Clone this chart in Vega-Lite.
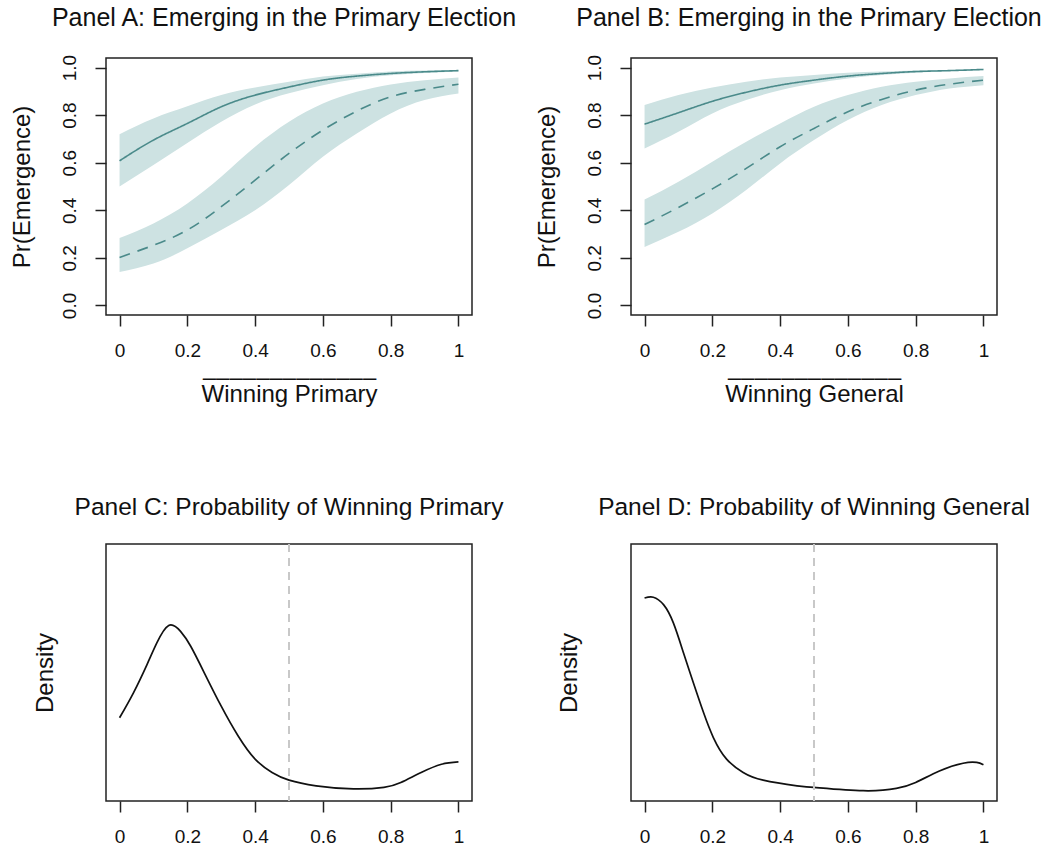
{
  "$schema": "https://vega.github.io/schema/vega-lite/v6.json",
  "autosize": "none",
  "padding": {"left": 106, "top": 58, "right": 951, "bottom": 793},
  "background": "white",
  "datasets": {
    "a": [
      {"x": 0, "series": "solid", "lo": 0.50, "est": 0.608, "hi": 0.72},
      {"x": 0.1, "series": "solid", "lo": 0.59, "est": 0.695, "hi": 0.786},
      {"x": 0.2, "series": "solid", "lo": 0.683, "est": 0.765, "hi": 0.837},
      {"x": 0.3, "series": "solid", "lo": 0.772, "est": 0.835, "hi": 0.884},
      {"x": 0.4, "series": "solid", "lo": 0.845, "est": 0.884, "hi": 0.916},
      {"x": 0.5, "series": "solid", "lo": 0.892, "est": 0.918, "hi": 0.94},
      {"x": 0.6, "series": "solid", "lo": 0.926, "est": 0.947, "hi": 0.962},
      {"x": 0.7, "series": "solid", "lo": 0.952, "est": 0.964, "hi": 0.974},
      {"x": 0.8, "series": "solid", "lo": 0.967, "est": 0.975, "hi": 0.983},
      {"x": 0.9, "series": "solid", "lo": 0.977, "est": 0.982, "hi": 0.987},
      {"x": 1.0, "series": "solid", "lo": 0.983, "est": 0.987, "hi": 0.990},
      {"x": 0, "series": "dashed", "lo": 0.141, "est": 0.202, "hi": 0.284},
      {"x": 0.1, "series": "dashed", "lo": 0.176, "est": 0.253, "hi": 0.345},
      {"x": 0.2, "series": "dashed", "lo": 0.240, "est": 0.317, "hi": 0.429},
      {"x": 0.3, "series": "dashed", "lo": 0.317, "est": 0.415, "hi": 0.541},
      {"x": 0.4, "series": "dashed", "lo": 0.400, "est": 0.527, "hi": 0.667},
      {"x": 0.5, "series": "dashed", "lo": 0.506, "est": 0.639, "hi": 0.772},
      {"x": 0.6, "series": "dashed", "lo": 0.625, "est": 0.737, "hi": 0.849},
      {"x": 0.7, "series": "dashed", "lo": 0.723, "est": 0.817, "hi": 0.898},
      {"x": 0.8, "series": "dashed", "lo": 0.807, "est": 0.877, "hi": 0.929},
      {"x": 0.9, "series": "dashed", "lo": 0.863, "est": 0.908, "hi": 0.947},
      {"x": 1.0, "series": "dashed", "lo": 0.891, "est": 0.930, "hi": 0.958}
    ],
    "b": [
      {"x": 0, "series": "solid", "lo": 0.660, "est": 0.762, "hi": 0.842},
      {"x": 0.1, "series": "solid", "lo": 0.730, "est": 0.810, "hi": 0.884},
      {"x": 0.2, "series": "solid", "lo": 0.807, "est": 0.858, "hi": 0.916},
      {"x": 0.3, "series": "solid", "lo": 0.863, "est": 0.896, "hi": 0.940},
      {"x": 0.4, "series": "solid", "lo": 0.905, "est": 0.926, "hi": 0.958},
      {"x": 0.5, "series": "solid", "lo": 0.933, "est": 0.947, "hi": 0.969},
      {"x": 0.6, "series": "solid", "lo": 0.954, "est": 0.964, "hi": 0.978},
      {"x": 0.7, "series": "solid", "lo": 0.969, "est": 0.975, "hi": 0.983},
      {"x": 0.8, "series": "solid", "lo": 0.978, "est": 0.983, "hi": 0.987},
      {"x": 0.9, "series": "solid", "lo": 0.985, "est": 0.987, "hi": 0.990},
      {"x": 1.0, "series": "solid", "lo": 0.989, "est": 0.992, "hi": 0.993},
      {"x": 0, "series": "dashed", "lo": 0.246, "est": 0.340, "hi": 0.445},
      {"x": 0.1, "series": "dashed", "lo": 0.310, "est": 0.412, "hi": 0.520},
      {"x": 0.2, "series": "dashed", "lo": 0.387, "est": 0.490, "hi": 0.604},
      {"x": 0.3, "series": "dashed", "lo": 0.485, "est": 0.576, "hi": 0.688},
      {"x": 0.4, "series": "dashed", "lo": 0.597, "est": 0.667, "hi": 0.765},
      {"x": 0.5, "series": "dashed", "lo": 0.695, "est": 0.744, "hi": 0.835},
      {"x": 0.6, "series": "dashed", "lo": 0.779, "est": 0.814, "hi": 0.884},
      {"x": 0.7, "series": "dashed", "lo": 0.842, "est": 0.866, "hi": 0.919},
      {"x": 0.8, "series": "dashed", "lo": 0.884, "est": 0.905, "hi": 0.940},
      {"x": 0.9, "series": "dashed", "lo": 0.912, "est": 0.930, "hi": 0.954},
      {"x": 1.0, "series": "dashed", "lo": 0.926, "est": 0.947, "hi": 0.964}
    ],
    "c": [
      {"x": 0, "y": 3.24}, {"x": 0.041, "y": 4.21}, {"x": 0.081, "y": 5.31},
      {"x": 0.11, "y": 6.15}, {"x": 0.145, "y": 6.83}, {"x": 0.18, "y": 6.60},
      {"x": 0.21, "y": 6.02}, {"x": 0.25, "y": 4.99}, {"x": 0.30, "y": 3.69},
      {"x": 0.35, "y": 2.53}, {"x": 0.40, "y": 1.63}, {"x": 0.45, "y": 1.11},
      {"x": 0.50, "y": 0.81}, {"x": 0.58, "y": 0.59}, {"x": 0.69, "y": 0.47},
      {"x": 0.78, "y": 0.53}, {"x": 0.83, "y": 0.72}, {"x": 0.89, "y": 1.11},
      {"x": 0.95, "y": 1.43}, {"x": 1.0, "y": 1.52}
    ],
    "d": [
      {"x": 0, "y": 7.90}, {"x": 0.026, "y": 7.93}, {"x": 0.056, "y": 7.64},
      {"x": 0.085, "y": 6.93}, {"x": 0.115, "y": 5.76}, {"x": 0.144, "y": 4.60},
      {"x": 0.174, "y": 3.44}, {"x": 0.203, "y": 2.47}, {"x": 0.242, "y": 1.63},
      {"x": 0.291, "y": 1.11}, {"x": 0.35, "y": 0.81}, {"x": 0.45, "y": 0.59},
      {"x": 0.50, "y": 0.53}, {"x": 0.645, "y": 0.40}, {"x": 0.743, "y": 0.49},
      {"x": 0.80, "y": 0.72}, {"x": 0.87, "y": 1.17}, {"x": 0.94, "y": 1.47},
      {"x": 0.98, "y": 1.50}, {"x": 1.0, "y": 1.41}
    ]
  },
  "columns": 2,
  "spacing": {"row": 229, "column": 159},
  "bounds": "flush",
  "concat": [
    {
      "width": 366, "height": 257,
      "title": {"text": "Panel A: Emerging in the Primary Election", "dx": -5},
      "data": {"name": "a"},
      "layer": [
        {
          "mark": {"type": "area", "color": "#cde2e2", "interpolate": "natural", "opacity": 1},
          "encoding": {
            "x": {"field": "x", "type": "quantitative", "scale": {"domain": [-0.04, 1.04], "nice": false, "zero": false},
                  "axis": {"values": [0, 0.2, 0.4, 0.6, 0.8, 1], "format": "~g", "title": ["–––––––––––––", "Winning Primary"], "titlePadding": 5, "titleLineHeight": 17.5}},
            "y": {"field": "lo", "type": "quantitative", "scale": {"domain": [-0.04, 1.04], "nice": false, "zero": false},
                  "axis": {"values": [0, 0.2, 0.4, 0.6, 0.8, 1], "format": ".1f", "labelAngle": -90, "labelAlign": "center", "labelBaseline": "bottom", "labelPadding": 16, "title": "Pr(Emergence)", "titlePadding": 26}},
            "y2": {"field": "hi"},
            "detail": {"field": "series", "type": "nominal"}
          }
        },
        {
          "mark": {"type": "line", "color": "#4a8a8a", "strokeWidth": 1.6, "interpolate": "natural"},
          "encoding": {
            "x": {"field": "x", "type": "quantitative"},
            "y": {"field": "est", "type": "quantitative"},
            "strokeDash": {"field": "series", "type": "nominal", "scale": {"domain": ["solid", "dashed"], "range": [[1, 0], [11, 8]]}, "legend": null}
          }
        }
      ]
    },
    {
      "width": 366, "height": 257,
      "title": {"text": "Panel B: Emerging in the Primary Election", "dx": -5},
      "data": {"name": "b"},
      "layer": [
        {
          "mark": {"type": "area", "color": "#cde2e2", "interpolate": "natural", "opacity": 1},
          "encoding": {
            "x": {"field": "x", "type": "quantitative", "scale": {"domain": [-0.04, 1.04], "nice": false, "zero": false},
                  "axis": {"values": [0, 0.2, 0.4, 0.6, 0.8, 1], "format": "~g", "title": ["–––––––––––––", "Winning General"], "titlePadding": 5, "titleLineHeight": 17.5}},
            "y": {"field": "lo", "type": "quantitative", "scale": {"domain": [-0.04, 1.04], "nice": false, "zero": false},
                  "axis": {"values": [0, 0.2, 0.4, 0.6, 0.8, 1], "format": ".1f", "labelAngle": -90, "labelAlign": "center", "labelBaseline": "bottom", "labelPadding": 16, "title": "Pr(Emergence)", "titlePadding": 26}},
            "y2": {"field": "hi"},
            "detail": {"field": "series", "type": "nominal"}
          }
        },
        {
          "mark": {"type": "line", "color": "#4a8a8a", "strokeWidth": 1.6, "interpolate": "natural"},
          "encoding": {
            "x": {"field": "x", "type": "quantitative"},
            "y": {"field": "est", "type": "quantitative"},
            "strokeDash": {"field": "series", "type": "nominal", "scale": {"domain": ["solid", "dashed"], "range": [[1, 0], [11, 8]]}, "legend": null}
          }
        }
      ]
    },
    {
      "width": 366, "height": 257,
      "title": {"text": "Panel C: Probability of Winning Primary", "fontSize": 24.5},
      "data": {"name": "c"},
      "layer": [
        {
          "mark": {"type": "line", "color": "#111111", "strokeWidth": 1.7, "interpolate": "natural"},
          "encoding": {
            "x": {"field": "x", "type": "quantitative", "scale": {"domain": [-0.04, 1.04], "nice": false, "zero": false},
                  "axis": {"values": [0, 0.2, 0.4, 0.6, 0.8, 1], "format": "~g", "title": null}},
            "y": {"field": "y", "type": "quantitative", "scale": {"domain": [0, 10], "nice": false, "zero": false},
                  "axis": {"labels": false, "ticks": false, "title": "Density", "titlePadding": 49}}
          }
        },
        {
          "mark": {"type": "rule", "color": "#c8c8c8", "strokeWidth": 1.5, "strokeDash": [8, 6]},
          "encoding": {"x": {"datum": 0.5}}
        }
      ]
    },
    {
      "width": 366, "height": 257,
      "title": {"text": "Panel D: Probability of Winning General", "fontSize": 24.5},
      "data": {"name": "d"},
      "layer": [
        {
          "mark": {"type": "line", "color": "#111111", "strokeWidth": 1.7, "interpolate": "natural"},
          "encoding": {
            "x": {"field": "x", "type": "quantitative", "scale": {"domain": [-0.04, 1.04], "nice": false, "zero": false},
                  "axis": {"values": [0, 0.2, 0.4, 0.6, 0.8, 1], "format": "~g", "title": null}},
            "y": {"field": "y", "type": "quantitative", "scale": {"domain": [0, 10], "nice": false, "zero": false},
                  "axis": {"labels": false, "ticks": false, "title": "Density", "titlePadding": 50}}
          }
        },
        {
          "mark": {"type": "rule", "color": "#c8c8c8", "strokeWidth": 1.5, "strokeDash": [8, 6]},
          "encoding": {"x": {"datum": 0.5}}
        }
      ]
    }
  ],
  "config": {
    "font": "Liberation Sans",
    "view": {"stroke": "#222222", "strokeWidth": 1.5},
    "axis": {
      "labelFont": "Liberation Sans", "titleFont": "Liberation Sans",
      "labelFontSize": 19, "titleFontSize": 24,
      "labelColor": "#111111", "titleColor": "#111111", "titleFontWeight": "normal",
      "tickColor": "#222222", "tickWidth": 1.5, "tickSize": 11,
      "grid": false, "domain": false, "labelPadding": 15
    },
    "title": {"font": "Liberation Sans", "fontSize": 25, "fontWeight": "normal", "color": "#111111", "baseline": "alphabetic", "offset": 23, "anchor": "middle"}
  }
}
